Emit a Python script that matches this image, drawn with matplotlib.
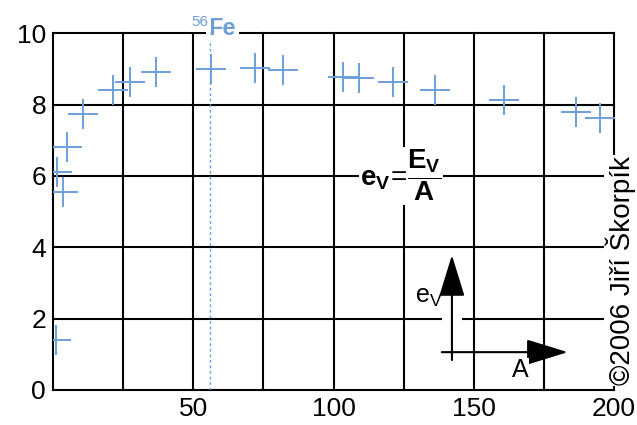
import matplotlib
matplotlib.use("Agg")
import matplotlib.pyplot as plt

plt.rcParams['font.family'] = ['Liberation Sans', 'DejaVu Sans']
plt.rcParams['mathtext.fontset'] = 'custom'
plt.rcParams['mathtext.rm'] = 'Liberation Sans'
plt.rcParams['mathtext.it'] = 'Liberation Sans'
plt.rcParams['mathtext.bf'] = 'Liberation Sans:bold'

# Mass number A and binding energy per nucleon e_v [MeV]
mass_number = [1, 1.3, 3.4, 4.9, 10.8, 21.3, 27.4, 36.6, 56.2, 72, 81.9,
               103.5, 109.2, 121.3, 136.1, 160.7, 186.6, 194.9]
binding = [1.4, 6.1, 5.55, 6.8, 7.73, 8.4, 8.64, 8.92, 9.0, 9.03, 8.96,
           8.78, 8.73, 8.63, 8.4, 8.12, 7.78, 7.61]
fe_a = 56
x_ticks = [0, 25, 50, 75, 100, 125, 150, 175, 200]
x_labels = ['', '', '50', '', '100', '', '150', '', '200']
y_ticks = [0, 2, 4, 6, 8, 10]

blue = '#6c9fd8'

fig = plt.figure(figsize=(6.37, 4.25), dpi=100)
ax = fig.add_axes([0.0832, 0.0824, 0.8808, 0.8396])

ax.plot(mass_number, binding, linestyle='none', marker='+', markersize=21,
        markeredgewidth=1.4, color=blue, zorder=3)
ax.axvline(fe_a, ymax=0.99, color=blue, linestyle=(0, (2, 2)), linewidth=1,
           zorder=2)

# Style
ax.set_xlim(0, 200)
ax.set_ylim(0, 10)
ax.set_xticks(x_ticks)
ax.set_xticklabels(x_labels)
ax.set_yticks(y_ticks)
ax.tick_params(length=0, labelsize=19, pad=5)
ax.grid(True, color='black', linewidth=1.5)
ax.set_axisbelow(True)
for s in ax.spines.values():
    s.set_visible(False)
for gl in ax.get_xgridlines() + ax.get_ygridlines():
    gl.set_clip_on(False)

# 56Fe label
ax.text(fe_a - 0.5, 10.13, 'Fe', color=blue, fontsize=17, fontweight='bold',
        ha='left', va='center', zorder=5,
        bbox=dict(facecolor='white', edgecolor='none', pad=2))
ax.text(fe_a - 0.5, 10.3, '56', color=blue, fontsize=11, ha='right',
        va='center', zorder=5,
        bbox=dict(facecolor='white', edgecolor='none', pad=1.5))

# formula
ax.text(124, 6.0,
        r'$\mathbf{e}_{\mathbf{V}}\!=\!\dfrac{\mathbf{E}_{\mathbf{V}}}{\mathbf{A}}$',
        fontsize=20, ha='center', va='center', zorder=5,
        bbox=dict(facecolor='white', edgecolor='none', pad=1))

# axis arrows
head = '-|>,head_length=2.6,head_width=0.8'
ax.annotate('', xy=(142.2, 3.78), xytext=(142.2, 0.84),
            arrowprops=dict(arrowstyle=head, mutation_scale=10,
                            color='black', lw=1.5, shrinkA=0, shrinkB=0),
            zorder=5)
ax.annotate('', xy=(183.5, 1.06), xytext=(138.6, 1.06),
            arrowprops=dict(arrowstyle=head, mutation_scale=10,
                            color='black', lw=1.5, shrinkA=0, shrinkB=0),
            zorder=5)
ax.add_patch(plt.Rectangle((138.8, 1.8), 7, 0.4, facecolor='white',
                           edgecolor='none', zorder=4))
ax.text(134, 2.6, r'e$_{\mathregular{V}}$', fontsize=18, ha='center',
        va='center', zorder=5)
ax.text(166.4, 0.55, 'A', fontsize=18, ha='center', va='center', zorder=5,
        bbox=dict(facecolor='white', edgecolor='none', pad=0.5))

fig.text(0.975, 0.094, '©2006 Jiří Škorpík', rotation=90, fontsize=20,
         ha='center', va='bottom', zorder=5,
         bbox=dict(facecolor='white', edgecolor='none', pad=1))

fig.savefig('out.png', dpi=100, facecolor='white')
